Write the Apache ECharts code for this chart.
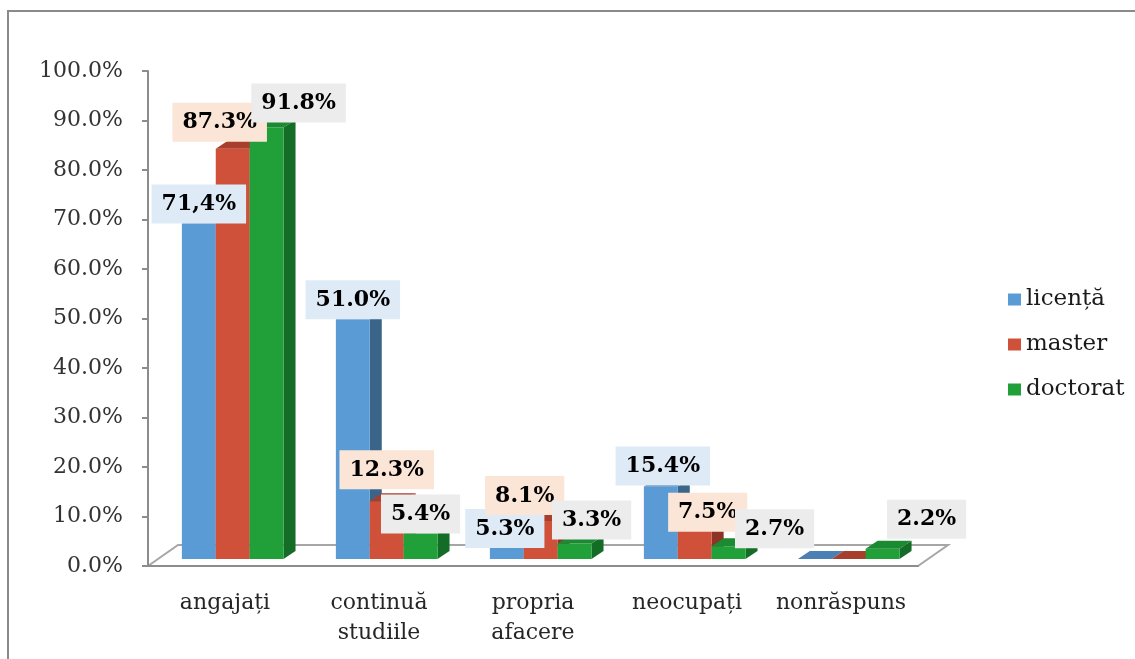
<!DOCTYPE html>
<html>
<head>
<meta charset="utf-8">
<script src="https://cdn.jsdelivr.net/npm/echarts@6/dist/echarts.min.js"></script>
<style>
html,body{margin:0;padding:0;background:#fff;}
#chart{width:1135px;height:659px;}
</style>
</head>
<body>
<div id="chart"></div>
<script>
// ---- data ----
const categories = ['angajați', 'continuă\nstudiile', 'propria\nafacere', 'neocupați', 'nonrăspuns'];
const seriesNames = ['licență', 'master', 'doctorat'];
const licenta  = [71.4, 51.0, 5.3, 15.4, 0];
const master   = [87.3, 12.3, 8.1, 7.5, 0];
const doctorat = [91.8, 5.4, 3.3, 2.7, 2.2];
const licentaLabels  = ['71,4%', '51.0%', '5.3%', '15.4%', ''];
const masterLabels   = ['87.3%', '12.3%', '8.1%', '7.5%', ''];
const doctoratLabels = ['91.8%', '5.4%', '3.3%', '2.7%', '2.2%'];
const yTicks = [0, 10, 20, 30, 40, 50, 60, 70, 80, 90, 100];

// ---- styles ----
const FONT = '"DejaVu Serif", "Liberation Serif", serif';
const palette = [
  {front: '#5b9bd5', side: '#3b6489', top: '#4a80b3', labelBg: '#deebf7'},
  {front: '#d05139', side: '#8d3424', top: '#a83f2c', labelBg: '#fbe5d6'},
  {front: '#21a03a', side: '#146d26', top: '#1b8a31', labelBg: '#ececec'}
];
// label nudges (px) to mimic the reference's label placement
const labelNudge = [
  [[0, 0], [-13, -7], [32, -5]],
  [[0, 0], [0, -12], [0, 0]],
  [[-2, 14], [-16, -6], [17, -4]],
  [[2, -1], [13, 8], [46, 2]],
  [[0, 0], [0, 0], [44, -10]]
];

const values = [licenta, master, doctorat];
const labels = [licentaLabels, masterLabels, doctoratLabels];

function makeRender(s) {
  const col = palette[s];
  return function (params, api) {
    const cat = api.value(0), v = api.value(1);
    const base = api.coord([cat, 0]);
    const topY = api.coord([cat, v])[1];
    const cw = api.size([1, 0])[0];
    const left = base[0] - cw / 2;
    const bw = cw * 0.22;
    const x0 = left + bw * (1 + s);
    const x1 = x0 + bw;
    const by = base[1];
    const dx = cw * 0.078, dy = 8;
    const children = [
      {type: 'polygon', shape: {points: [[x1, topY], [x1 + dx, topY - dy], [x1 + dx, by - dy], [x1, by]]}, style: {fill: col.side}},
      {type: 'rect', shape: {x: x0, y: topY, width: bw, height: by - topY}, style: {fill: col.front}},
      {type: 'polygon', shape: {points: [[x0, topY], [x1, topY], [x1 + dx, topY - dy], [x0 + dx, topY - dy]]}, style: {fill: col.top}}
    ];
    const txt = labels[s][cat];
    if (txt) {
      const n = labelNudge[cat][s];
      children.push({
        type: 'text', z2: 100,
        x: (x0 + x1) / 2 + n[0], y: topY + n[1],
        style: {
          text: txt, fill: '#000', font: 'bold 22px ' + FONT,
          align: 'center', verticalAlign: 'bottom',
          backgroundColor: col.labelBg, padding: [9, 10, 8, 10]
        }
      });
    }
    return {type: 'group', children: children};
  };
}

const chart = echarts.init(document.getElementById('chart'), null, {renderer: 'canvas'});

const series = seriesNames.map((name, s) => ({
  name: name,
  type: 'custom',
  xAxisIndex: 1,
  yAxisIndex: 1,
  itemStyle: {color: palette[s].front},
  renderItem: makeRender(s),
  encode: {x: 0, y: 1},
  data: values[s].map((v, i) => [i, v])
}));

chart.setOption({
  animation: false,
  backgroundColor: '#fff',
  legend: {
    orient: 'vertical',
    left: 1003, top: 283,
    icon: 'rect', itemWidth: 13, itemHeight: 12, itemGap: 22,
    textStyle: {fontFamily: FONT, fontSize: 23, color: '#1a1a1a'},
    data: seriesNames
  },
  grid: [
    {left: 148, top: 71, width: 770, height: 495},
    {left: 148, top: 89, width: 770, height: 470}
  ],
  xAxis: [
    {
      gridIndex: 0, type: 'category', data: categories,
      axisLine: {lineStyle: {color: '#8c8c8c', width: 2}},
      axisTick: {length: 8, interval: 0, lineStyle: {color: '#8c8c8c', width: 2}},
      axisLabel: {interval: 0, fontFamily: FONT, fontSize: 22, color: '#262626', margin: 22, lineHeight: 30}
    },
    {gridIndex: 1, type: 'category', data: categories, show: false}
  ],
  yAxis: [
    {
      gridIndex: 0, type: 'value', min: 0, max: 100, interval: 10,
      axisLine: {show: true, lineStyle: {color: '#8c8c8c', width: 2}},
      axisTick: {show: true, length: 6, lineStyle: {color: '#8c8c8c', width: 2}},
      splitLine: {show: false},
      axisLabel: {
        fontFamily: FONT, fontSize: 22, color: '#333', margin: 25,
        formatter: v => yTicks.indexOf(v) >= 0 ? v.toFixed(1) + '%' : ''
      }
    },
    {gridIndex: 1, type: 'value', min: 0, max: 100, show: false}
  ],
  series: series
});

// 3D floor outline derived from the front axis
const p0 = chart.convertToPixel({gridIndex: 0}, [0, 0]);
const cw = chart.getModel().getComponent('xAxis', 0).axis.getBandWidth();
const fx0 = p0[0] - cw / 2, fx1 = fx0 + cw * categories.length, fy = p0[1];
const ddx = 30, ddy = 21;
const floorStyle = {stroke: '#a6a6a6', lineWidth: 2, fill: null};
chart.setOption({
  graphic: [
    {type: 'polyline', z: -1, shape: {points: [[fx0, fy], [fx0 + ddx, fy - ddy], [fx1 + ddx, fy - ddy], [fx1, fy]]}, style: floorStyle},
    {type: 'polyline', shape: {points: [[8, 659], [8, 11], [1135, 11]]}, style: {stroke: '#8a8a8a', lineWidth: 2, fill: null}}
  ]
});
</script>
</body>
</html>
